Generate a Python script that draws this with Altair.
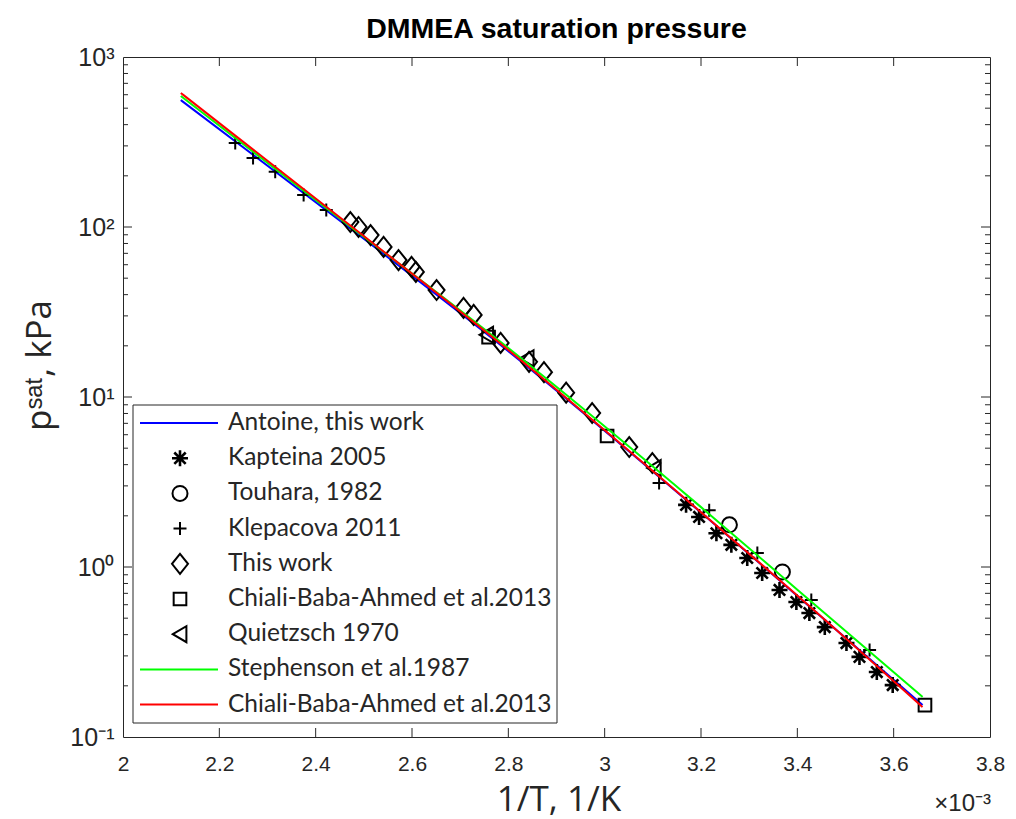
import altair as alt
import pandas as pd

# ---------------- data (x = 1/T in units of 1e-3 1/K, p in kPa) ----------------
line_x = [2.12, 2.40, 2.80, 3.20, 3.40, 3.66]
antoine_p = [558, 140, 18.6, 2.09, 0.676, 0.154]
stephenson_p = [590, 144, 19.4, 2.25, 0.735, 0.172]
chiali_line_p = [614, 147, 18.9, 2.10, 0.680, 0.150]

kapteina_x = [3.169, 3.196, 3.232, 3.263, 3.296, 3.327, 3.363, 3.398, 3.425, 3.457, 3.502, 3.529, 3.565, 3.598]
kapteina_p = [2.32, 1.97, 1.58, 1.35, 1.13, 0.922, 0.733, 0.622, 0.536, 0.443, 0.357, 0.296, 0.241, 0.202]

touhara_x = [3.259, 3.369]
touhara_p = [1.77, 0.935]

klepacova_x = [2.233, 2.270, 2.316, 2.375, 2.422, 3.113, 3.217, 3.317, 3.429, 3.550]
klepacova_p = [312, 255, 211, 154, 126, 3.12, 2.16, 1.21, 0.64, 0.325]

thiswork_x = [2.472, 2.489, 2.514, 2.541, 2.572, 2.599, 2.608, 2.651, 2.707, 2.728, 2.784, 2.843, 2.874, 2.920, 2.974, 3.051, 3.099]
thiswork_p = [107, 100, 89.7, 76.3, 63.9, 58.2, 54.4, 42.6, 33.4, 30.4, 20.8, 16.1, 14.0, 10.6, 8.05, 5.08, 4.09]

chiali_x = [2.759, 3.005, 3.665]
chiali_p = [22.5, 5.9, 0.154]

quietzsch_x = [2.755, 2.839, 3.103]
quietzsch_p = [23.2, 16.9, 3.82]

legend_labels = ["Antoine, this work", "Kapteina 2005", "Touhara, 1982", "Klepacova 2011",
                 "This work", "Chiali-Baba-Ahmed et al.2013", "Quietzsch 1970",
                 "Stephenson et al.1987", "Chiali-Baba-Ahmed et al.2013"]

x_tick_values = [2.0, 2.2, 2.4, 2.6, 2.8, 3.0, 3.2, 3.4, 3.6, 3.8]
y_tick_values = [0.1, 1, 10, 100, 1000]

# ---------------- layout ----------------
W, H = 867, 680
TXT = '#262626'
NARROW = 'Liberation Sans Narrow, Liberation Sans, sans-serif'
HUMAN = 'Lato, sans-serif'
WIDE = 'Open Sans, sans-serif'

x_axis = alt.Axis(values=x_tick_values, format='~g', title='1/T, 1/K', grid=False, ticks=False,
                  domain=False, labelFont=NARROW, labelFontSize=21, labelColor=TXT, labelPadding=16,
                  labelFlush=False, labelOverlap=False, titleFont=WIDE, titleFontSize=35,
                  titleFontWeight='normal', titleColor=TXT, titleX=W / 2 + 2, titleY=62,
                  titleBaseline='middle', titleAlign='center')
y_axis = alt.Axis(values=y_tick_values, grid=False, ticks=False, domain=False,
                  labelExpr="datum.value >= 1000 ? '10³' : datum.value >= 100 ? '10²' : datum.value >= 10 ? '10¹' : datum.value >= 1 ? '10⁰' : '10⁻¹'",
                  labelFont='Liberation Sans, sans-serif', labelFontSize=25, labelColor=TXT,
                  labelPadding=9, labelOverlap=False, labelFlush=False,
                  title='pˢᵃᵗ, kPa', titleFont=WIDE, titleFontSize=35, titleFontWeight='normal',
                  titleColor=TXT, titleX=-84, titleY=H / 2 - 32, titleAngle=270,
                  titleBaseline='middle', titleAlign='center')

xs = alt.Scale(domain=[2.0, 3.8], nice=False, zero=False)
ys = alt.Scale(type='log', domain=[0.1, 1000], nice=False)


def X():
    return alt.X('x:Q', scale=xs, axis=x_axis)


def Y():
    return alt.Y('p:Q', scale=ys, axis=y_axis)


PLUS = 'M-1,0L1,0M0,-1L0,1'
ASTER = 'M-1,0L1,0M0,-1L0,1M-0.71,-0.71L0.71,0.71M-0.71,0.71L0.71,-0.71'
DIAM = 'M0,-1L0.8,0L0,1L-0.8,0Z'
TRI_L = 'M-0.9,0L0.8,-1L0.8,1Z'

styles = {
    'kapteina': dict(shape=ASTER, size=256, strokeWidth=2.6),
    'touhara': dict(shape='circle', size=225, strokeWidth=2),
    'klepacova': dict(shape=PLUS, size=169, strokeWidth=2),
    'thiswork': dict(shape=DIAM, size=400, strokeWidth=2),
    'chiali': dict(shape='square', size=160, strokeWidth=2),
    'quietzsch': dict(shape=TRI_L, size=256, strokeWidth=2),
}


def pts(xv, pv, key):
    df = pd.DataFrame({'x': xv, 'p': pv})
    return alt.Chart(df).mark_point(filled=False, color='black', opacity=1, **styles[key]).encode(x=X(), y=Y())


def line(pv, color):
    df = pd.DataFrame({'x': line_x, 'p': pv})
    return alt.Chart(df).mark_line(color=color, strokeWidth=2, interpolate='monotone').encode(x=X(), y=Y())


# inward ticks
y_major = pd.DataFrame({'p': [1, 10, 100]})
y_minor = pd.DataFrame({'p': [k * 10 ** e for e in range(-1, 3) for k in range(2, 10)]})
x_major = pd.DataFrame({'x': x_tick_values[1:-1]})

tick_layers = [
    alt.Chart(y_major).mark_rule(color=TXT, strokeWidth=1).encode(y=Y(), x=alt.value(0), x2=alt.value(9)),
    alt.Chart(y_major).mark_rule(color=TXT, strokeWidth=1).encode(y=Y(), x=alt.value(W), x2=alt.value(W - 9)),
    alt.Chart(y_minor).mark_rule(color=TXT, strokeWidth=1).encode(y=Y(), x=alt.value(0), x2=alt.value(5)),
    alt.Chart(y_minor).mark_rule(color=TXT, strokeWidth=1).encode(y=Y(), x=alt.value(W), x2=alt.value(W - 5)),
    alt.Chart(x_major).mark_rule(color=TXT, strokeWidth=1).encode(x=X(), y=alt.value(H), y2=alt.value(H - 9)),
    alt.Chart(x_major).mark_rule(color=TXT, strokeWidth=1).encode(x=X(), y=alt.value(0), y2=alt.value(9)),
]

main = alt.layer(
    *tick_layers,
    line(antoine_p, '#0000FF'),
    pts(kapteina_x, kapteina_p, 'kapteina'),
    pts(touhara_x, touhara_p, 'touhara'),
    pts(klepacova_x, klepacova_p, 'klepacova'),
    pts(thiswork_x, thiswork_p, 'thiswork'),
    pts(chiali_x, chiali_p, 'chiali'),
    pts(quietzsch_x, quietzsch_p, 'quietzsch'),
    line(stephenson_p, '#00FF00'),
    line(chiali_line_p, '#FF0000'),
)

# ---------------- legend ----------------
ROW0, ROWSTEP = 366, 35.2
leg = pd.DataFrame({'label': legend_labels, 'row': list(range(len(legend_labels)))})
leg['ly'] = ROW0 + ROWSTEP * leg['row']
line_rows = pd.DataFrame({'row': [0, 7, 8], 'col': ['#0000FF', '#00FF00', '#FF0000']})
line_rows['ly'] = ROW0 + ROWSTEP * line_rows['row']
sym_keys = ['kapteina', 'touhara', 'klepacova', 'thiswork', 'chiali', 'quietzsch']

box = alt.Chart(pd.DataFrame({'a': [0]})).mark_rect(fill='white', stroke=TXT, strokeWidth=1).encode(
    x=alt.value(10), x2=alt.value(434), y=alt.value(348), y2=alt.value(666))
leg_text = alt.Chart(leg).mark_text(align='left', baseline='middle', font=HUMAN,
                                    fontSize=24.5, color=TXT).encode(
    x=alt.value(105), y=alt.Y('ly:Q', scale=None, axis=None), text='label:N')
leg_lines = alt.Chart(line_rows).mark_rule(strokeWidth=2).encode(
    x=alt.value(17), x2=alt.value(95), y=alt.Y('ly:Q', scale=None, axis=None),
    color=alt.Color('col:N', scale=None, legend=None))
leg_syms = []
for i, k in enumerate(sym_keys):
    d = leg[leg['row'] == i + 1][['ly']]
    leg_syms.append(alt.Chart(d).mark_point(filled=False, color='black', opacity=1, **styles[k]).encode(
        x=alt.value(57), y=alt.Y('ly:Q', scale=None, axis=None)))

exp_text = alt.Chart(pd.DataFrame({'a': [0]})).mark_text(
    text='×10⁻³', align='right', baseline='middle', font='Liberation Sans, sans-serif',
    fontSize=24, color=TXT).encode(x=alt.value(W + 1), y=alt.value(H + 67))

legend = alt.layer(box, leg_lines, *leg_syms, leg_text, exp_text)

chart = alt.layer(main, legend).resolve_scale(x='independent', y='independent').properties(
    width=W, height=H,
    title=alt.TitleParams('DMMEA saturation pressure', font='Liberation Sans, sans-serif', fontSize=28.5,
                          fontWeight='bold', color='black', anchor='middle', offset=2),
    autosize=alt.AutoSizeParams(type='none'),
    padding={'left': 123, 'top': 57, 'right': 26, 'bottom': 82},
    background='white',
).configure_view(stroke=TXT, strokeWidth=1)

chart.save('out.html', embed_options={'renderer': 'svg', 'actions': False})
